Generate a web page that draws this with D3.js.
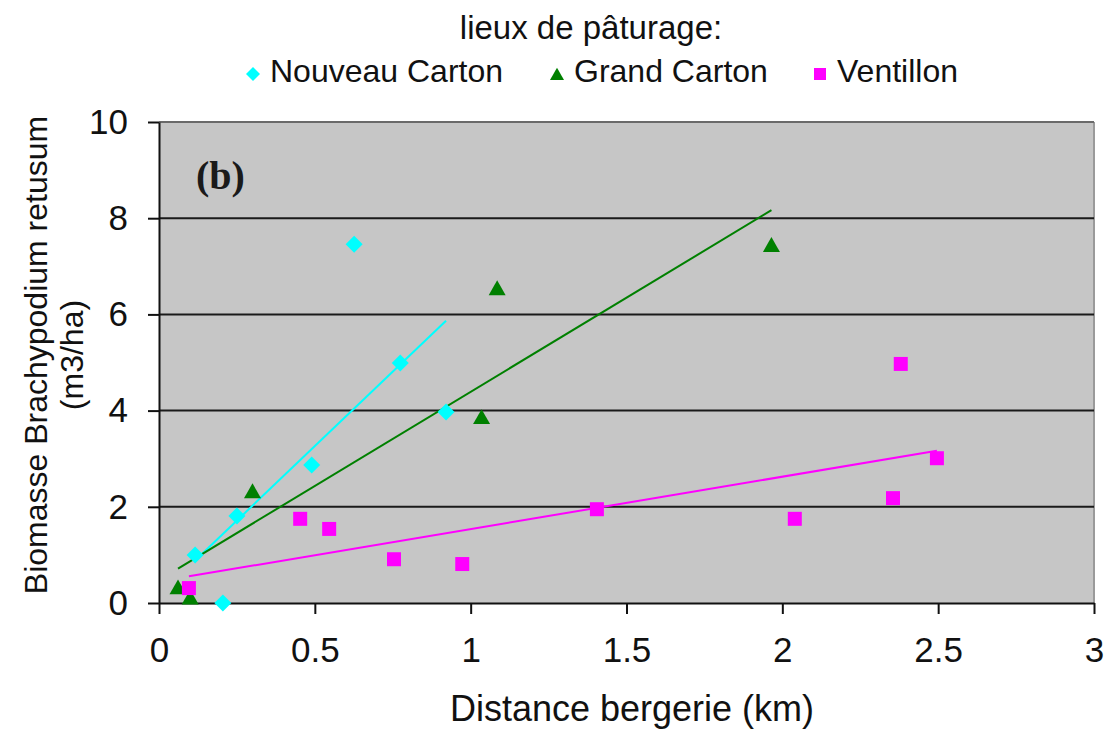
<!DOCTYPE html>
<html>
<head>
<meta charset="utf-8">
<script src="https://cdn.jsdelivr.net/npm/d3@7"></script>
<style>
  html, body { margin: 0; padding: 0; background: #fff; }
  svg { display: block; font-family: "Liberation Sans", Arial, sans-serif; }
</style>
</head>
<body>
<div id="svg-container"></div>
<script>
// data: distance bergerie (km) / biomasse (m3/ha)
const ncX = [0.116, 0.205, 0.25, 0.49, 0.626, 0.774, 0.921];
const ncY = [1.0, 0.0, 1.81, 2.87, 7.46, 4.99, 3.97];
const gcX = [0.061, 0.1, 0.30, 1.035, 1.085, 1.965];
const gcY = [0.33, 0.12, 2.33, 3.87, 6.55, 7.45];
const vX = [0.096, 0.453, 0.546, 0.754, 0.973, 1.405, 2.04, 2.355, 2.38, 2.496];
const vY = [0.31, 1.75, 1.54, 0.91, 0.81, 1.95, 1.75, 2.18, 4.97, 3.01];

const seriesNames = ["Nouveau Carton", "Grand Carton", "Ventillon"];
const xTicks = [0, 0.5, 1, 1.5, 2, 2.5, 3];
const yTicks = [0, 2, 4, 6, 8, 10];

const width = 1118, height = 731;
const margin = { top: 122, right: 24, bottom: 128, left: 159 };

const svg = d3.select("#svg-container").append("svg")
    .attr("width", width).attr("height", height);

const xScale = d3.scaleLinear().domain([0, 3]).range([margin.left, width - margin.right]);
const yScale = d3.scaleLinear().domain([0, 10]).range([height - margin.bottom, margin.top]);

const colors = ["#00ffff", "#008000", "#ff00ff"];
const shapes = ["diamond", "triangle", "square"];

const series = [ncX, gcX, vX].map((xs, i) => ({
    name: seriesNames[i],
    color: colors[i],
    shape: shapes[i],
    points: xs.map((x, j) => ({ x: x, y: [ncY, gcY, vY][i][j] }))
}));

// marker path centred on 0,0
function marker(shape, s) {
    if (shape === "diamond") return `M0,${-s}L${s},0L0,${s}L${-s},0Z`;
    if (shape === "triangle") return `M0,${-s * 0.9}L${s},${s * 0.85}L${-s},${s * 0.85}Z`;
    return `M${-s},${-s}H${s}V${s}H${-s}Z`;
}

// least squares trend line over the x range of the series
function trend(pts) {
    const mx = d3.mean(pts, (d) => d.x), my = d3.mean(pts, (d) => d.y);
    const sxy = d3.sum(pts, (d) => (d.x - mx) * (d.y - my));
    const sxx = d3.sum(pts, (d) => (d.x - mx) * (d.x - mx));
    const b = sxy / sxx, a = my - b * mx;
    const [x0, x1] = d3.extent(pts, (d) => d.x);
    return [{ x: x0, y: a + b * x0 }, { x: x1, y: a + b * x1 }];
}

////////////////////////////////////////////////////////////////////
// plot area
svg.append("rect")
    .attr("x", xScale(0)).attr("y", yScale(10))
    .attr("width", xScale(3) - xScale(0)).attr("height", yScale(0) - yScale(10))
    .attr("fill", "#c6c6c6");

svg.append("line")
    .attr("x1", xScale(3)).attr("x2", xScale(3))
    .attr("y1", yScale(10)).attr("y2", yScale(0))
    .attr("stroke", "#9a9a9a").attr("stroke-width", 2);

svg.append("g").selectAll("line")
    .data(yTicks.filter((d) => d > 0))
    .enter().append("line")
    .attr("x1", xScale(0)).attr("x2", xScale(3))
    .attr("y1", (d) => yScale(d)).attr("y2", (d) => yScale(d))
    .attr("stroke", (d) => d === 10 ? "#6a6a6a" : "#1a1a1a")
    .attr("stroke-width", 2);

// axes
const xAxis = d3.axisBottom(xScale).tickValues(xTicks).tickSize(11).tickSizeOuter(0).tickPadding(23)
    .tickFormat(d3.format("~g"));
const yAxis = d3.axisLeft(yScale).tickValues(yTicks).tickSize(11).tickSizeOuter(0).tickPadding(20);

const gx = svg.append("g").attr("transform", `translate(0,${yScale(0)})`).call(xAxis);
const gy = svg.append("g").attr("transform", `translate(${xScale(0)},0)`).call(yAxis);

[gx, gy].forEach((g) => {
    g.selectAll("path, line").attr("stroke", "#111").attr("stroke-width", 2);
    g.selectAll("text").attr("fill", "#111").style("font-size", "35px")
        .style("font-family", "'Liberation Sans', Arial, sans-serif");
});

// trend lines
series.forEach((s) => {
    const t = trend(s.points);
    svg.append("line")
        .attr("x1", xScale(t[0].x)).attr("y1", yScale(t[0].y))
        .attr("x2", xScale(t[1].x)).attr("y2", yScale(t[1].y))
        .attr("stroke", s.color).attr("stroke-width", 2);
});

// markers
series.forEach((s) => {
    svg.append("g").selectAll("path")
        .data(s.points)
        .enter().append("path")
        .attr("transform", (d) => `translate(${xScale(d.x)},${yScale(d.y)})`)
        .attr("d", marker(s.shape, s.shape === "square" ? 7 : 8.5))
        .attr("fill", s.color);
});

// panel label
svg.append("text")
    .attr("x", 196).attr("y", 189)
    .style("font-family", "'Liberation Serif', 'Times New Roman', serif")
    .style("font-weight", "bold").style("font-size", "40px")
    .attr("fill", "#1a1a1a")
    .text("(b)");

// axis titles
svg.append("text")
    .attr("x", 632).attr("y", 721)
    .attr("text-anchor", "middle")
    .style("font-size", "36px").attr("fill", "#111")
    .text("Distance bergerie (km)");

const yTitle = svg.append("text")
    .attr("transform", "translate(0,355) rotate(-90)")
    .attr("text-anchor", "middle")
    .style("font-size", "32px").attr("fill", "#111");
yTitle.append("tspan").attr("x", 0).attr("y", 47).text("Biomasse Brachypodium retusum");
yTitle.append("tspan").attr("x", 0).attr("y", 83).text("(m3/ha)");

// legend
svg.append("text")
    .attr("x", 591).attr("y", 39)
    .attr("text-anchor", "middle")
    .style("font-size", "33px").attr("fill", "#111")
    .text("lieux de pâturage:");

const legendX = [253, 557, 820];
const legend = svg.append("g").selectAll("g")
    .data(series)
    .enter().append("g")
    .attr("transform", (d, i) => `translate(${legendX[i]},74)`);

legend.append("path")
    .attr("d", (d) => marker(d.shape, d.shape === "square" ? 6 : 7))
    .attr("fill", (d) => d.color);

legend.append("text")
    .attr("x", 17).attr("y", 8)
    .style("font-size", "32px").attr("fill", "#111")
    .text((d) => d.name);
</script>
</body>
</html>
